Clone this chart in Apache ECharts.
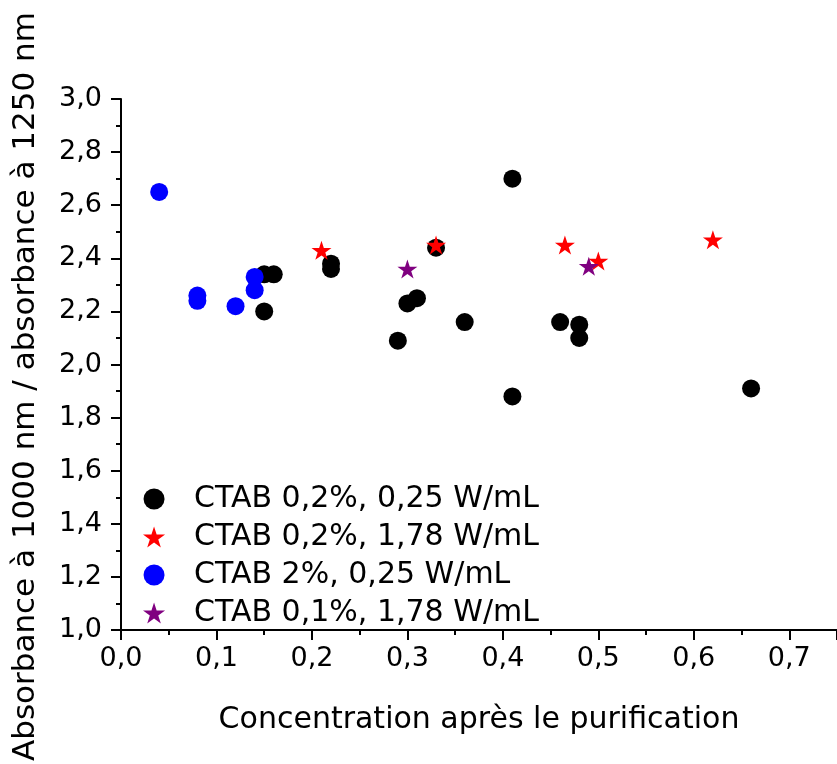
<!DOCTYPE html>
<html>
<head>
<meta charset="utf-8">
<script src="https://cdn.jsdelivr.net/npm/echarts@6/dist/echarts.min.js"></script>
<style>
html,body{margin:0;padding:0;background:#fff;}
#chart{width:837px;height:764px;}
</style>
</head>
<body>
<div id="chart"></div>
<script>
// Series names
var seriesNames = ['CTAB 0,2%, 0,25 W/mL', 'CTAB 0,2%, 1,78 W/mL', 'CTAB 2%, 0,25 W/mL', 'CTAB 0,1%, 1,78 W/mL'];
// CTAB 0,2%, 0,25 W/mL (black circles)
var blackX = [0.15, 0.16, 0.15, 0.22, 0.22, 0.29, 0.30, 0.31, 0.33, 0.36, 0.41, 0.41, 0.46, 0.48, 0.48, 0.66];
var blackY = [2.34, 2.34, 2.20, 2.38, 2.36, 2.09, 2.23, 2.25, 2.44, 2.16, 2.70, 1.88, 2.16, 2.15, 2.10, 1.91];
// CTAB 0,2%, 1,78 W/mL (red stars)
var redX = [0.21, 0.33, 0.465, 0.50, 0.62];
var redY = [2.43, 2.45, 2.45, 2.39, 2.47];
// CTAB 2%, 0,25 W/mL (blue circles)
var blueX = [0.04, 0.08, 0.08, 0.12, 0.14, 0.14];
var blueY = [2.65, 2.26, 2.24, 2.22, 2.33, 2.28];
// CTAB 0,1%, 1,78 W/mL (purple stars)
var purpleX = [0.30, 0.49];
var purpleY = [2.36, 2.37];
// Axis ranges (tick labels are 0,0 ... 0,7 and 1,0 ... 3,0)
var xRange = [0, 0.75];
var yRange = [1.0, 3.0];

function pairs(xs, ys) { return xs.map(function (x, i) { return [x, ys[i]]; }); }
function fmt(v) { return v.toFixed(1).replace('.', ','); }

var STAR = 'path://M50,0L61.23,34.55L97.55,34.55L68.17,55.9L79.39,90.45L50,69.1L20.61,90.45L31.83,55.9L2.45,34.55L38.77,34.55Z';
var FONT = 'DejaVu Sans';

var chart = echarts.init(document.getElementById('chart'), null, {renderer: 'canvas'});
var axisCommon = {
  type: 'value',
  axisLine: {show: true, onZero: false, lineStyle: {color: '#000', width: 2}},
  axisTick: {show: true, length: 10, lineStyle: {color: '#000', width: 2}},
  minorTick: {show: true, splitNumber: 2, length: 5, lineStyle: {color: '#000', width: 2}},
  splitLine: {show: false},
  minorSplitLine: {show: false}
};
chart.setOption({
  animation: false,
  backgroundColor: '#fff',
  textStyle: {fontFamily: FONT},
  grid: {left: 121, top: 99, width: 721, height: 537, containLabel: false},
  legend: {
    orient: 'vertical',
    left: 138,
    top: 479,
    itemWidth: 70,
    itemHeight: 21,
    itemGap: 8,
    symbolKeepAspect: true,
    textStyle: {fontFamily: FONT, fontSize: 30, color: '#000', lineHeight: 30},
    data: seriesNames
  },
  xAxis: Object.assign({}, axisCommon, {
    min: xRange[0],
    max: xRange[1],
    interval: 0.1,
    name: 'Concentration après le purification',
    nameLocation: 'middle',
    nameGap: 75,
    nameTextStyle: {fontFamily: FONT, fontSize: 30, color: '#000'},
    axisLabel: {formatter: fmt, margin: 15, fontFamily: FONT, fontSize: 27, color: '#000', showMaxLabel: false}
  }),
  yAxis: Object.assign({}, axisCommon, {
    min: yRange[0],
    max: yRange[1],
    interval: 0.2,
    name: 'Absorbance à 1000 nm / absorbance à 1250 nm',
    nameLocation: 'middle',
    nameGap: 80,
    nameTextStyle: {fontFamily: FONT, fontSize: 31, color: '#000', padding: [0, 44, 0, 0]},
    axisLabel: {formatter: fmt, margin: 19, fontFamily: FONT, fontSize: 27, color: '#000'}
  }),
  series: [
    {name: seriesNames[0], type: 'scatter', symbol: 'circle', symbolSize: 18,
     itemStyle: {color: '#000000', opacity: 1}, data: pairs(blackX, blackY)},
    {name: seriesNames[1], type: 'scatter', symbol: STAR, symbolSize: [20, 19],
     itemStyle: {color: '#ff0000', opacity: 1}, data: pairs(redX, redY)},
    {name: seriesNames[2], type: 'scatter', symbol: 'circle', symbolSize: 18,
     itemStyle: {color: '#0000ff', opacity: 1}, data: pairs(blueX, blueY)},
    {name: seriesNames[3], type: 'scatter', symbol: STAR, symbolSize: [20, 19],
     itemStyle: {color: '#800080', opacity: 1}, data: pairs(purpleX, purpleY)}
  ]
});
</script>
</body>
</html>
